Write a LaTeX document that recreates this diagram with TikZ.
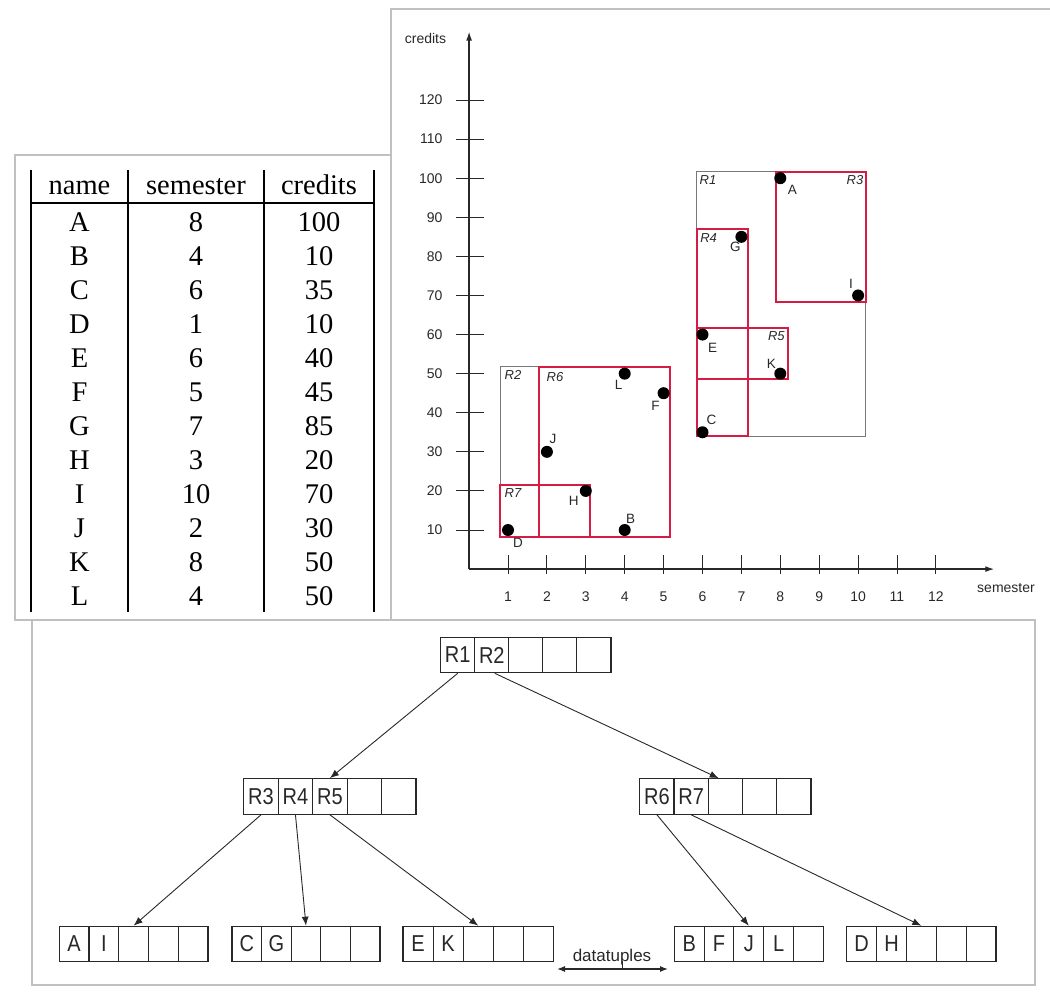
\documentclass[tikz,border=0pt]{standalone}
\usepackage{fontspec}
\setmainfont{Liberation Serif}
\newfontfamily\plotfont{Liberation Sans}
\newfontfamily\treefont[FakeStretch=0.87]{Liberation Sans}
\usetikzlibrary{arrows.meta,calc}
\definecolor{rred}{RGB}{214,28,68}
\definecolor{panelgray}{RGB}{192,192,192}
\definecolor{ink}{RGB}{40,40,40}
\definecolor{mbrgray}{RGB}{120,120,120}
\newcommand{\cellrow}[5]{%
  \foreach \lab [count=\ci] in {#5} {
    \node[cellbox, minimum width=#4pt] (#1-\ci) at ({#2+(\ci-0.5)*#4}, #3) {\lab};
  }%
}
\begin{document}
\begin{tikzpicture}[x=1pt,y=-1pt,
  panel/.style={draw=panelgray,line width=1.6pt},
  tabrule/.style={line width=1.4pt,black},
  tabtxt/.style={font=\fontsize{28.5}{30}\selectfont,anchor=base,inner sep=0},
  axisline/.style={line width=1.4pt,ink},
  ticklab/.style={font=\plotfont\fontsize{14}{16}\selectfont,text=ink,inner sep=0},
  reglab/.style={font=\plotfont\itshape\fontsize{13}{15}\selectfont,text=ink,inner sep=0},
  ptlab/.style={font=\plotfont\fontsize{13.5}{15}\selectfont,text=ink,inner sep=0},
  dot/.style={circle,fill=black,inner sep=0,minimum size=12pt},
  mbr/.style={draw=mbrgray,line width=1pt},
  redmbr/.style={draw=rred,line width=2pt},
  cellbox/.style={draw=ink,line width=1.1pt,inner sep=0,minimum height=35.5pt,
    font=\treefont\fontsize{23}{24}\selectfont,text=ink},
  treearrow/.style={draw=ink,line width=0.9pt,-{Latex[length=9pt,width=7pt]}},
]
\path[use as bounding box] (0,0) rectangle (1050,995);

% panels
\draw[panel] (15,155) rectangle (391,620);
\draw[panel] (391,620) -- (391,9) -- (1050,9);
\draw[panel] (32,620) rectangle (1035,985);

% ---------- table ----------
\draw[tabrule] (31,170) -- (31,612);
\draw[tabrule] (128,170) -- (128,612);
\draw[tabrule] (264,170) -- (264,612);
\draw[tabrule] (374,170) -- (374,612);
\draw[line width=1.9pt] (31,203) -- (374,203);
\node[tabtxt] (hname) at (79.5,195) {name};
\node[tabtxt] (hsem) at (196,195) {semester};
\node[tabtxt] (hcred) at (319,195) {credits};
\foreach \n/\s/\c [count=\i from 0] in {A/8/100,B/4/10,C/6/35,D/1/10,E/6/40,F/5/45,G/7/85,H/3/20,I/10/70,J/2/30,K/8/50,L/4/50} {
  \node[tabtxt] (tn\i) at (79.5,{231.7+33.98*\i}) {\n};
  \node[tabtxt] (ts\i) at (196,{231.7+33.98*\i}) {\s};
  \node[tabtxt] (tc\i) at (319,{231.7+33.98*\i}) {\c};
}

% ---------- plot ----------
\begin{scope}[shift={(469.1,569.1)}, x=38.9pt, y=3.909pt]
  \coordinate (O) at (0,0);
  \coordinate (ytip) at (0,137.5);
  \coordinate (xtip) at (13.5,0);
  \draw[axisline,-{Latex[length=9pt,width=6pt]}] (O) -- (ytip);
  \draw[axisline,-{Latex[length=9pt,width=6pt]}] (O) -- (xtip);
  \foreach \s in {1,...,12} {
    \draw[axisline,line width=1pt] (\s,-1.3) -- (\s,3.6);
    \node[ticklab] (xt\s) at (\s,0) [yshift=-28pt] {\s};
  }
  \foreach \c in {10,20,...,120} {
    \draw[axisline,line width=1pt] (-0.334,\c) -- (0.386,\c);
    \node[ticklab,anchor=east] (yt\c) at (-0.68,\c) {\c};
  }
  % MBRs
  \draw[mbr] (5.85,34.0) rectangle (10.2,101.6);
  \draw[mbr] (0.8,8.1) rectangle (5.17,51.8);
  \draw[redmbr] (7.89,68.4) rectangle (10.2,101.6);
  \draw[redmbr] (5.85,34.0) rectangle (7.18,87.1);
  \draw[redmbr] (5.85,48.7) rectangle (8.19,61.6);
  \draw[redmbr] (1.8,8.1) rectangle (5.17,51.8);
  \draw[redmbr] (0.8,8.1) rectangle (3.12,21.5);
  % points
  \node[dot] (pA) at (8,100) {};
  \node[dot] (pB) at (4,10) {};
  \node[dot] (pC) at (6,35) {};
  \node[dot] (pD) at (1,10) {};
  \node[dot] (pE) at (6,60) {};
  \node[dot] (pF) at (5,45) {};
  \node[dot] (pG) at (7,85) {};
  \node[dot] (pH) at (3,20) {};
  \node[dot] (pI) at (10,70) {};
  \node[dot] (pJ) at (2,30) {};
  \node[dot] (pK) at (8,50) {};
  \node[dot] (pL) at (4,50) {};
\end{scope}
\node[ticklab] (ylab) at (425.5,38.5) {credits};
\node[ticklab] (xlab) at (1006,588) {semester};

% region labels
\node[reglab] (rl1) at (708,180) {R1};
\node[reglab] (rl3) at (855,180) {R3};
\node[reglab] (rl4) at (708.6,238) {R4};
\node[reglab] (rl5) at (776.4,335.7) {R5};
\node[reglab] (rl2) at (513,375) {R2};
\node[reglab] (rl6) at (555,377) {R6};
\node[reglab] (rl7) at (513,492.7) {R7};

% point labels
\node[ptlab] (lA) at ($(pA)+(12,12)$) {A};
\node[ptlab] (lG) at ($(pG)+(-6,10)$) {G};
\node[ptlab] (lI) at ($(pI)+(-7,-12)$) {I};
\node[ptlab] (lE) at ($(pE)+(10,13)$) {E};
\node[ptlab] (lK) at ($(pK)+(-9,-10)$) {K};
\node[ptlab] (lC) at ($(pC)+(9,-12)$) {C};
\node[ptlab] (lL) at ($(pL)+(-6,11)$) {L};
\node[ptlab] (lF) at ($(pF)+(-8,13)$) {F};
\node[ptlab] (lJ) at ($(pJ)+(6,-13)$) {J};
\node[ptlab] (lH) at ($(pH)+(-12,10)$) {H};
\node[ptlab] (lB) at ($(pB)+(6,-11)$) {B};
\node[ptlab] (lD) at ($(pD)+(10,13)$) {D};

% ---------- tree ----------
\cellrow{root}{440.7}{655}{34.06}{R1,R2,{},{},{}}
\cellrow{mL}{243.8}{796.5}{34.44}{R3,R4,R5,{},{}}
\cellrow{mR}{639.8}{796.5}{34.24}{R6,R7,{},{},{}}
\cellrow{lAI}{59.3}{944}{29.74}{A,I,{},{},{}}
\cellrow{lCG}{232}{944}{29.6}{C,G,{},{},{}}
\cellrow{lEK}{403}{944}{30.1}{E,K,{},{},{}}
\cellrow{lBF}{674.3}{944}{29.8}{B,F,J,L,{}}
\cellrow{lDH}{846.7}{944}{29.86}{D,H,{},{},{}}

\draw[treearrow] (root-1.south) -- (mL-3.north);
\draw[treearrow] ($(root-2.south)+(3,0)$) -- ($(mR-3.north west)!0.31!(mR-3.north east)$);
\draw[treearrow] (mL-1.south) -- (lAI-3.north);
\draw[treearrow] (mL-2.south) -- (lCG-3.north);
\draw[treearrow] (mL-3.south) -- (lEK-3.north);
\draw[treearrow] (mR-1.south) -- (lBF-3.north);
\draw[treearrow] (mR-2.south) -- (lDH-3.north);

% datatuples
\node[font=\plotfont\fontsize{17}{19}\selectfont,text=ink,inner sep=0] (dt) at (612,957) {datatuples};
\coordinate (dl) at (557,969);
\coordinate (dr) at (668,969);
\coordinate (dm) at (622,969);
\coordinate (dmt) at (622,961);
\draw[ink,line width=1.2pt,{Latex[length=8pt,width=6pt]}-{Latex[length=8pt,width=6pt]}] (dl) -- (dr);
\draw[ink,line width=1pt] (dm) -- (dmt);
\end{tikzpicture}
\end{document}
